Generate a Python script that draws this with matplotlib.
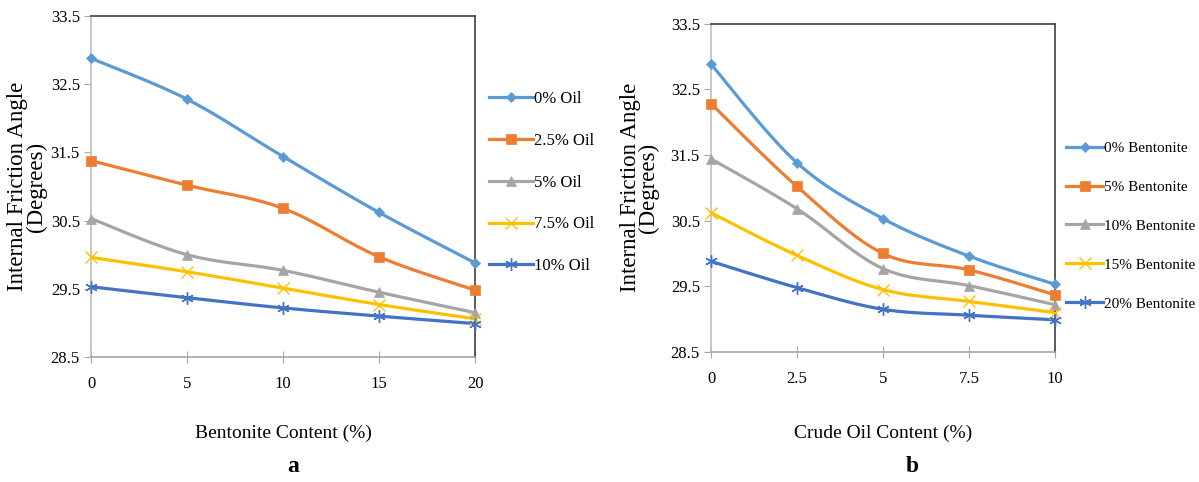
import numpy as np
import matplotlib
matplotlib.use("Agg")
import matplotlib.pyplot as plt

# Internal friction angle (degrees); rows = crude oil content, cols = bentonite content
bentonite = [0, 5, 10, 15, 20]
crude_oil = [0, 2.5, 5, 7.5, 10]
friction_angle = np.array([
    [32.88, 32.28, 31.44, 30.62, 29.88],   # 0% oil
    [31.38, 31.02, 30.68, 29.97, 29.48],   # 2.5% oil
    [30.53, 30.00, 29.77, 29.45, 29.15],   # 5% oil
    [29.96, 29.75, 29.51, 29.27, 29.06],   # 7.5% oil
    [29.53, 29.37, 29.22, 29.10, 28.99],   # 10% oil
])
oil_labels = ["0% Oil", "2.5% Oil", "5% Oil", "7.5% Oil", "10% Oil"]
bent_labels = ["0% Bentonite", "5% Bentonite", "10% Bentonite",
               "15% Bentonite", "20% Bentonite"]
y_ticks = [28.5, 29.5, 30.5, 31.5, 32.5, 33.5]

colors = ["#5B9BD5", "#ED7D31", "#A5A5A5", "#FFC000", "#4472C4"]
markers = ["D", "s", "^", "x", (6, 2, 0)]
msizes = [5.5, 7, 7, 9, 9]

SERIF = "Liberation Serif"


def smooth(x, y, n=30):
    # Catmull-Rom curve through the points (Excel style smoothed line)
    x = np.asarray(x, float)
    y = np.asarray(y, float)
    px = np.concatenate([[x[0]], x, [x[-1]]])
    py = np.concatenate([[y[0]], y, [y[-1]]])
    xs, ys = [], []
    t = np.linspace(0, 1, n)
    for i in range(1, len(px) - 2):
        p0, p1, p2, p3 = (np.array([px[j], py[j]]) for j in (i - 1, i, i + 1, i + 2))
        c1 = p1 + (p2 - p0) / 6
        c2 = p2 - (p3 - p1) / 6
        b = ((1 - t) ** 3)[:, None] * p1 + (3 * (1 - t) ** 2 * t)[:, None] * c1 \
            + (3 * (1 - t) * t ** 2)[:, None] * c2 + (t ** 3)[:, None] * p2
        xs.extend(b[:, 0])
        ys.extend(b[:, 1])
    return xs, ys


def style_axes(ax, xticks, label_x):
    ax.set_xlim(xticks[0], xticks[-1])
    ax.set_ylim(28.5, 33.5)
    ax.set_xticks(xticks)
    ax.set_xticklabels([f"{v:g}" for v in xticks], fontfamily=SERIF, fontsize=12)
    ax.set_yticks(y_ticks)
    ax.set_yticklabels([f"{v:.1f}" for v in y_ticks], fontfamily=SERIF, fontsize=12)
    ax.spines["left"].set_color("#BFBFBF")
    ax.spines["bottom"].set_color("#A6A6A6")
    ax.spines["top"].set_color("#404040")
    ax.spines["right"].set_color("#404040")
    for s in ax.spines.values():
        s.set_linewidth(1.2)
    ax.tick_params(axis="x", direction="inout", length=9, color="#A6A6A6", pad=9)
    ax.tick_params(axis="y", direction="out", length=5, color="#A6A6A6", pad=3)
    ax.set_ylabel("Internal Friction Angle\n(Degrees)", fontfamily=SERIF,
                  fontsize=16.5, linespacing=0.85)
    ax.yaxis.set_label_coords(label_x, 0.5)


def draw_series(ax, x, rows, labels):
    for i, (vals, lab) in enumerate(zip(rows, labels)):
        sx, sy = smooth(x, vals)
        ax.plot(sx, sy, color=colors[i], lw=2.3, solid_capstyle="round", zorder=2)
        ax.plot(x, vals, linestyle="none", marker=markers[i], color=colors[i],
                markersize=msizes[i], markeredgewidth=1.0 if i >= 3 else 0.5,
                clip_on=False, zorder=3)
        ax.plot([], [], color=colors[i], lw=2.3, marker=markers[i],
                markersize=msizes[i], markeredgewidth=1.0 if i >= 3 else 0.5,
                label=lab)


fig = plt.figure(figsize=(11.99, 4.82), dpi=100)

ax_a = fig.add_axes([0.0759, 0.2593, 0.3203, 0.7075])
draw_series(ax_a, bentonite, friction_angle, oil_labels)
style_axes(ax_a, bentonite, -0.115)
ax_a.legend(loc="upper left", bbox_to_anchor=(1.02, 0.80), frameon=False,
            prop={"family": SERIF, "size": 12}, handlelength=2.6,
            handletextpad=0.05, labelspacing=1.55, borderaxespad=0)
ax_a.set_xlabel("Bentonite Content (%)", fontfamily=SERIF, fontsize=14, labelpad=24)

ax_b = fig.add_axes([0.593, 0.2697, 0.2869, 0.6815])
draw_series(ax_b, crude_oil, friction_angle.T, bent_labels)
style_axes(ax_b, crude_oil, -0.15)
ax_b.legend(loc="upper left", bbox_to_anchor=(1.015, 0.66), frameon=False,
            prop={"family": SERIF, "size": 11}, handlelength=2.4,
            handletextpad=0.05, labelspacing=1.65, borderaxespad=0)
ax_b.set_xlabel("Crude Oil Content (%)", fontfamily=SERIF, fontsize=14, labelpad=27.5)

fig.text(293 / 1199, 1 - 466 / 482, "a", fontfamily=SERIF, fontsize=17,
         fontweight="bold", ha="center", va="center")
fig.text(912 / 1199, 1 - 466 / 482, "b", fontfamily=SERIF, fontsize=17,
         fontweight="bold", ha="center", va="center")

fig.savefig("out.png", dpi=100)
